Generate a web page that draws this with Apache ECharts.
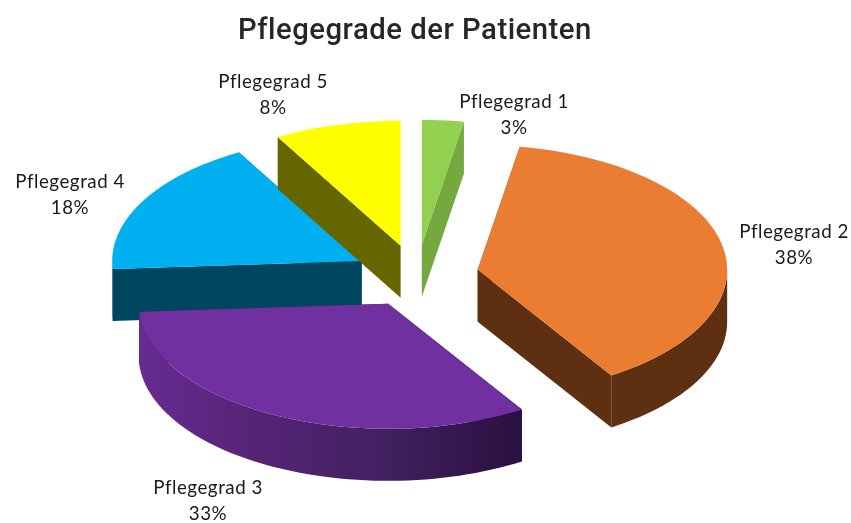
<!DOCTYPE html>
<html><head><meta charset="utf-8">
<style>html,body{margin:0;padding:0;background:#fff}#c{width:851px;height:523px}</style>
<script src="https://cdn.jsdelivr.net/npm/echarts@6/dist/echarts.min.js"></script>
</head><body><div id="c"></div>
<script>
const categories = ['Pflegegrad 1','Pflegegrad 2','Pflegegrad 3','Pflegegrad 4','Pflegegrad 5'];
const values = [2.7, 38.3, 33, 17.8, 8.2];
const titleText = 'Pflegegrade der Patienten';

const topColors = ['#92D050','#EB7D32','#7030A0','#00B0F0','#FFFF00'];
const sideColors = ['#76A840','#5E2F11','#3A1A55','#00465F','#666600'];
const drawOrder = [0, 3, 4, 1, 2];
const labelCentres = [[514,115],[794,245],[208,501],[70,195],[273,95]];
const pie = {cx:416.5, cy:276, a:249.5, b:125, depth:52, explode:0.25};

const total = values.reduce((s,v)=>s+v,0);
const starts = [];
values.reduce((s,v,i)=>{starts[i]=s;return s+v;},0);
const rad = v => v/total*2*Math.PI;

function slice(params, api){
  const i = params.dataIndex, v = api.value(0);
  const t0 = rad(starts[i]), t1 = t0 + rad(v), mid = (t0+t1)/2;
  const ox = pie.cx + pie.explode*pie.a*Math.sin(mid);
  const oy = pie.cy - pie.explode*pie.b*Math.cos(mid);
  const pt = (t,d)=>[ox+pie.a*Math.sin(t), oy-pie.b*Math.cos(t)+(d||0)];
  const arc = (a0,a1,d)=>{const n=Math.max(2,Math.ceil((a1-a0)*90/Math.PI)),o=[];
    for(let k=0;k<=n;k++)o.push(pt(a0+(a1-a0)*k/n,d));return o;};
  const z = drawOrder.indexOf(i)*10;
  const kids = [];
  const side = sideColors[i];
  const wall = t => ({type:'polygon',z2:z,shape:{points:[[ox,oy],pt(t),pt(t,pie.depth),[ox,oy+pie.depth]]},style:{fill:side}});
  kids.push(wall(t0), wall(t1));
  const r0 = Math.max(t0,Math.PI/2), r1 = Math.min(t1,1.5*Math.PI);
  if(r1>r0){
    const fill = i===2 ? {type:'linear',x:1,y:0,x2:0,y2:0,colorStops:[
      {offset:0,color:'#2A1040'},{offset:0.35,color:'#41205F'},{offset:0.7,color:'#552476'},{offset:1,color:'#662B92'}]} : side;
    kids.push({type:'polygon',z2:z+1,shape:{points:arc(r0,r1,0).concat(arc(r0,r1,pie.depth).reverse())},style:{fill}});
  }
  kids.push({type:'polygon',z2:z+2,shape:{points:[[ox,oy]].concat(arc(t0,t1,0))},style:{fill:topColors[i]}});
  const c = labelCentres[i];
  kids.push({type:'text',z2:100,style:{
    text:categories[i]+'\n'+Math.round(v/total*100)+'%',x:c[0],y:c[1],align:'center',verticalAlign:'middle',
    font:'18.8px Lato',lineHeight:26,fill:'#1a1a1a'}});
  return {type:'group',children:kids};
}

const chart = echarts.init(document.getElementById('c'),null,{renderer:'canvas'});
chart.setOption({
  animation:false,
  backgroundColor:'#fff',
  title:{text:titleText,left:238,top:17,padding:0,textStyle:{fontFamily:'Roboto',fontWeight:500,fontSize:29.3,color:'#262626'}},
  series:[{type:'custom',coordinateSystem:'none',renderItem:slice,
    data:values.map((v,i)=>({name:categories[i],value:[v]}))}]
});
const cv = document.querySelector('#c canvas');
if(cv){
  cv.getContext('2d').letterSpacing='0.5px';
  chart.getZr().painter.refresh(true);
}
</script></body></html>
